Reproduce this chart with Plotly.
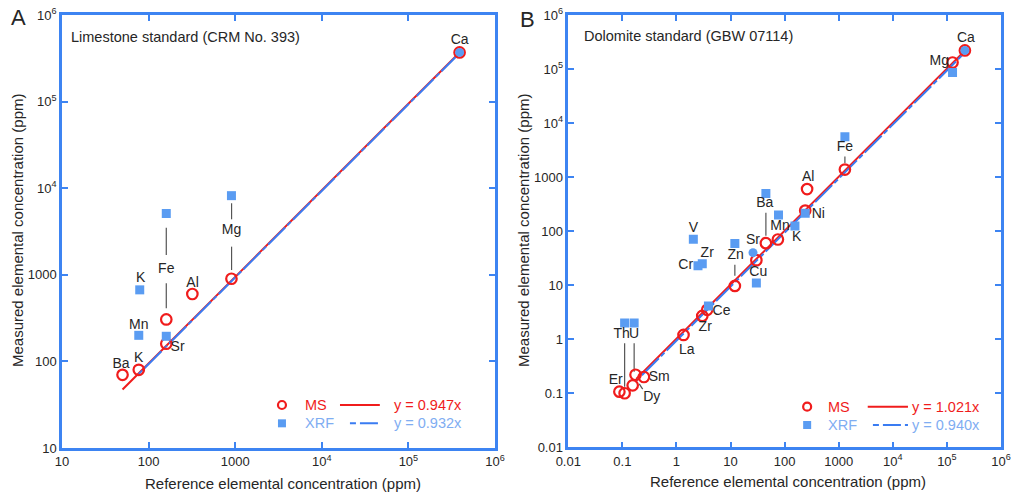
import plotly.graph_objects as go

# ---------------- Panel A: limestone standard (CRM No. 393) ----------------
a_ms_elem = ["Ba", "K", "Sr", "Fe", "Al", "Mg", "Ca"]
a_ms_ref = [50, 77, 160, 160, 320, 905, 390000]
a_ms_meas = [70, 80, 160, 305, 600, 900, 370000]

a_xrf_elem = ["K", "Mn", "Sr", "Fe", "Mg", "Ca"]
a_xrf_ref = [79, 77, 160, 160, 905, 390000]
a_xrf_meas = [670, 200, 195, 5100, 8200, 370000]
a_xrf_symbol = ["square", "square", "square", "square", "square", "circle"]

a_ms_slope = 0.947
a_xrf_slope = 0.932
a_ms_span = [50, 390000]
a_xrf_span = [77, 390000]

a_lbl_text = ["Ba", "K", "Sr", "Mn", "K", "Fe", "Al", "Mg", "Ca"]
a_lbl_x = [48, 77, 216, 77, 81, 160, 322, 908, 390000]
a_lbl_y = [93, 107, 146, 258, 902, 1155, 798, 3290, 510000]

# leader segments (x, y_start, y_end)
a_lead_x = [160, 160, 908, 908]
a_lead_y0 = [410, 1694, 1135, 4375]
a_lead_y1 = [798, 3500, 2113, 6700]

# ---------------- Panel B: dolomite standard (GBW 07114) ----------------
b_ms_elem = ["Er", "Th", "Dy", "U", "Sm", "La", "Zr", "Ce", "Zn", "Cu",
             "Ba", "Mn", "Ni", "Al", "Fe", "Mg", "Ca"]
b_ms_ref = [0.088, 0.11, 0.155, 0.175, 0.25, 1.35, 3.0, 3.7, 12, 30,
            45, 75, 240, 260, 1300, 127000, 215000]
b_ms_meas = [0.107, 0.10, 0.14, 0.22, 0.20, 1.2, 2.7, 3.5, 9.7, 29,
             60, 70, 240, 600, 1380, 132000, 221000]

b_xrf_elem = ["Th", "U", "V", "Cr", "Zr", "Ce", "Zn", "Cu", "Sr", "Ba",
              "Mn", "K", "Ni", "Fe", "Mg", "Ca"]
b_xrf_ref = [0.11, 0.165, 2.05, 2.5, 3.0, 3.9, 12, 30, 26, 45,
             77, 155, 240, 1300, 127000, 215000]
b_xrf_meas = [2.0, 2.0, 71, 23, 25, 4.1, 59, 11, 40, 500,
              200, 125, 215, 5600, 86000, 221000]
b_xrf_symbol = ["square", "square", "square", "square", "square", "square",
                "square", "square", "circle", "square", "square", "square",
                "square", "square", "square", "circle"]

b_ms_slope = 1.021
b_xrf_slope = 0.940
b_ms_span = [0.18, 215000]
b_xrf_span = [0.18, 215000]

b_lbl_text = ["Ca", "Mg", "Fe", "Al", "Ni", "Ba", "Mn", "K", "Sr", "V",
              "Zr", "Cr", "Zn", "Cu", "Ce", "Zr", "La", "Th", "U", "Er",
              "Sm", "Dy"]
b_lbl_x = [224000, 72000, 1300, 273, 418, 43, 82, 167, 26, 2.05,
           3.7, 1.48, 12.4, 32.5, 6.8, 3.4, 1.55, 0.097, 0.164, 0.075,
           0.48, 0.35]
b_lbl_y = [375000, 136000, 3530, 985, 200, 320, 122, 77, 67, 114,
           38, 23, 35, 17, 3.3, 1.67, 0.63, 1.24, 1.24, 0.171,
           0.198, 0.084]

b_lead_x0 = [1300, 45, 12, 0.11, 0.165, 0.205]
b_lead_x1 = [1300, 45, 12, 0.11, 0.165, 0.237]
b_lead_y0 = [1815, 82, 14.9, 0.132, 0.25, 0.149]
b_lead_y1 = [2400, 218, 23.8, 0.84, 0.84, 0.119]

# ---------------- styling ----------------
RED = "#f01c1c"
BLUE_MK = "#5a9cf2"
BLUE_LN = "#3a7cf2"
BLUE_TXT = "#7fadf2"
FRAME = "#3d84f2"
FONT = "Liberation Sans, Arial, sans-serif"
TXT = "#262626"

W, H = 1013, 497
A_X = (62, 495)
B_X = (568.3, 1001)
A_Y = (15, 448)
B_Y = (15, 447.3)


def dom_x(px):
    return (px[0] / W, px[1] / W)


def dom_y(py):
    return (1 - py[1] / H, 1 - py[0] / H)


fig = go.Figure()


def add_panel(xa, ya, ms_x, ms_y, xrf_x, xrf_y, xrf_sym, ms_k, xrf_k,
              ms_span, xrf_span, lx, ly, lt, seg_x0, seg_x1, seg_y0, seg_y1):
    # fit lines
    fig.add_trace(go.Scatter(
        x=ms_span, y=[ms_k * v for v in ms_span], mode="lines",
        line=dict(color=RED, width=2), xaxis=xa, yaxis=ya, hoverinfo="skip"))
    fig.add_trace(go.Scatter(
        x=xrf_span, y=[xrf_k * v for v in xrf_span], mode="lines",
        line=dict(color=BLUE_LN, width=2, dash="5px,3px,24px,3px"),
        xaxis=xa, yaxis=ya, hoverinfo="skip"))
    # leader lines
    sx, sy = [], []
    for a, b, c, d in zip(seg_x0, seg_x1, seg_y0, seg_y1):
        sx += [a, b, None]
        sy += [c, d, None]
    fig.add_trace(go.Scatter(
        x=sx, y=sy, mode="lines", line=dict(color="#555555", width=1.2),
        xaxis=xa, yaxis=ya, hoverinfo="skip"))
    # MS points (open circles)
    fig.add_trace(go.Scatter(
        x=ms_x, y=ms_y, mode="markers",
        marker=dict(symbol="circle-open", size=10.5, color=RED,
                    line=dict(width=2.2, color=RED)),
        xaxis=xa, yaxis=ya))
    # XRF points (filled)
    fig.add_trace(go.Scatter(
        x=xrf_x, y=xrf_y, mode="markers",
        marker=dict(symbol=xrf_sym, size=9, color=BLUE_MK,
                    line=dict(width=0)),
        xaxis=xa, yaxis=ya))
    # element labels
    fig.add_trace(go.Scatter(
        x=lx, y=ly, text=lt, mode="text", textposition="middle center",
        textfont=dict(family=FONT, size=14, color=TXT),
        xaxis=xa, yaxis=ya, hoverinfo="skip"))


add_panel("x", "y", a_ms_ref, a_ms_meas, a_xrf_ref, a_xrf_meas, a_xrf_symbol,
          a_ms_slope, a_xrf_slope, a_ms_span, a_xrf_span,
          a_lbl_x, a_lbl_y, a_lbl_text,
          a_lead_x, a_lead_x, a_lead_y0, a_lead_y1)
add_panel("x2", "y2", b_ms_ref, b_ms_meas, b_xrf_ref, b_xrf_meas, b_xrf_symbol,
          b_ms_slope, b_xrf_slope, b_ms_span, b_xrf_span,
          b_lbl_x, b_lbl_y, b_lbl_text,
          b_lead_x0, b_lead_x1, b_lead_y0, b_lead_y1)

exp_lbl = {-2: "0.01", -1: "0.1", 0: "1", 1: "10", 2: "100", 3: "1000",
           4: "10<sup>4</sup>", 5: "10<sup>5</sup>", 6: "10<sup>6</sup>"}
a_decades = list(range(1, 7))
b_decades = list(range(-2, 7))


def axis(domain, decades, anchor):
    return dict(
        type="log", domain=domain, anchor=anchor, automargin=False,
        range=[decades[0], decades[-1]],
        tickvals=[10 ** d for d in decades],
        ticktext=[exp_lbl[d] for d in decades],
        showline=True, linecolor=FRAME, linewidth=2.5, mirror="ticks",
        ticks="inside", ticklen=6, tickwidth=2, tickcolor=FRAME,
        showgrid=False, zeroline=False,
        tickfont=dict(family=FONT, size=13, color=TXT),
    )


fig.update_layout(
    width=W, height=H, margin=dict(l=0, r=0, t=0, b=0),
    paper_bgcolor="white", plot_bgcolor="white", showlegend=False,
    font=dict(family=FONT, color=TXT),
    xaxis=axis(dom_x(A_X), a_decades, "y"),
    yaxis=axis(dom_y(A_Y), a_decades, "x"),
    xaxis2=axis(dom_x(B_X), b_decades, "y2"),
    yaxis2=axis(dom_y(B_Y), b_decades, "x2"),
)

ann = []
shapes = []


def txt(x, y, s, size=12.5, color=TXT, xanchor="center", xref="paper",
        yref="paper", angle=0):
    ann.append(dict(x=x, y=y, text=s, showarrow=False, xref=xref, yref=yref,
                    xanchor=xanchor, yanchor="middle", textangle=angle,
                    font=dict(family=FONT, size=size, color=color)))


# panel letters and titles
txt(18 / W, 1 - 17 / H, "A", size=22)
txt(527 / W, 1 - 19 / H, "B", size=22)
txt(0.016, 0.949, "Limestone standard (CRM No. 393)", size=14.5,
    xanchor="left", xref="x domain", yref="y domain")
txt(0.031, 0.951, "Dolomite standard (GBW 07114)", size=14.5, xanchor="left",
    xref="x2 domain", yref="y2 domain")

# axis titles
txt(283 / W, 1 - 483 / H, "Reference elemental concentration (ppm)", size=15)
txt(788 / W, 1 - 481 / H, "Reference elemental concentration (ppm)", size=15)
txt(17 / W, 1 - 231 / H, "Measured elemental concentration (ppm)", size=15,
    angle=-90)
txt(523 / W, 1 - 231 / H, "Measured elemental concentration (ppm)", size=15,
    angle=-90)


def legend(xr, yr, mk_x, row1, row2, txt_x, ms_line, xrf_line, eq_x,
           ms_eq, xrf_eq):
    shapes.append(dict(type="circle", xref=xr, yref=yr, xsizemode="pixel",
                       ysizemode="pixel", xanchor=mk_x, yanchor=row1,
                       x0=-4, x1=4, y0=-4, y1=4,
                       line=dict(color=RED, width=2.2)))
    shapes.append(dict(type="rect", xref=xr, yref=yr, xsizemode="pixel",
                       ysizemode="pixel", xanchor=mk_x, yanchor=row2,
                       x0=-4, x1=4, y0=-4, y1=4,
                       fillcolor=BLUE_MK, line=dict(width=0)))
    shapes.append(dict(type="line", xref=xr, yref=yr, x0=ms_line[0],
                       x1=ms_line[1], y0=row1, y1=row1,
                       line=dict(color=RED, width=2)))
    shapes.append(dict(type="line", xref=xr, yref=yr, x0=xrf_line[0],
                       x1=xrf_line[1], y0=row2, y1=row2,
                       line=dict(color=BLUE_LN, width=2,
                                 dash="6px,4px,18px,4px")))
    txt(txt_x, row1, "MS", size=14.5, color=RED, xanchor="left", xref=xr,
        yref=yr)
    txt(txt_x, row2, "XRF", size=14.5, color=BLUE_TXT, xanchor="left",
        xref=xr, yref=yr)
    txt(eq_x, row1, ms_eq, size=14.5, color=RED, xanchor="left", xref=xr,
        yref=yr)
    txt(eq_x, row2, xrf_eq, size=14.5, color=BLUE_TXT, xanchor="left",
        xref=xr, yref=yr)


legend("x domain", "y domain", 0.508, 0.0993, 0.057, 0.556,
       (0.642, 0.734), (0.665, 0.734), 0.762,
       f"y = {a_ms_slope:.3f}x", f"y = {a_xrf_slope:.3f}x")
legend("x2 domain", "y2 domain", 0.552, 0.094, 0.0516, 0.595,
       (0.692, 0.785), (0.704, 0.785), 0.79,
       f"y = {b_ms_slope:.3f}x", f"y = {b_xrf_slope:.3f}x")

fig.update_layout(annotations=ann, shapes=shapes)
fig.write_html("out.html")
